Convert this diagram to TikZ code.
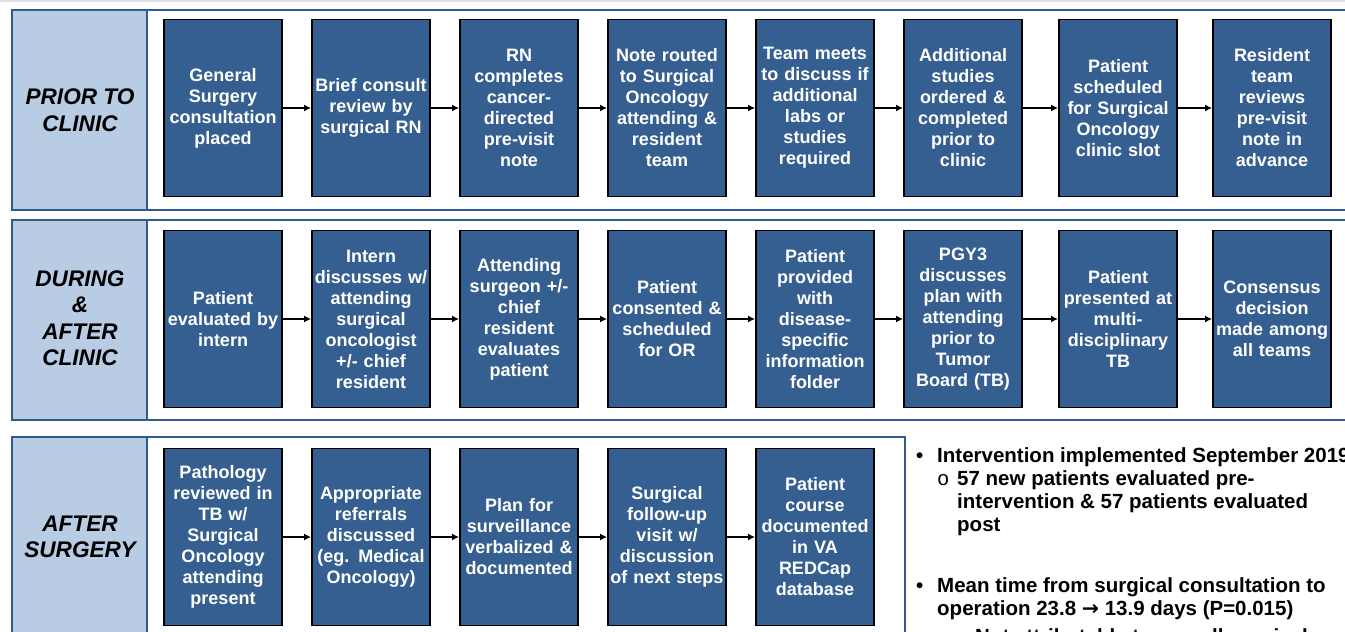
\documentclass[tikz,border=0pt]{standalone}
\usepackage{fontspec}
\setmainfont{Liberation Sans}
\newfontfamily\bulletfont{Liberation Mono}
\newfontfamily\arrowfont{DejaVu Sans}
\usetikzlibrary{positioning,arrows.meta}
\definecolor{boxblue}{HTML}{365F91}
\definecolor{paneblue}{HTML}{B8CCE4}
\definecolor{rimblue}{HTML}{2F5A8E}
\tikzset{node distance=148pt, >={Latex[length=7pt,width=7pt]},
  stepbox/.style={draw=black, line width=1.8pt, fill=boxblue, text=white,
    font=\bfseries\fontsize{18}{21}\selectfont, text width=116pt,
    inner xsep=1pt, minimum height=177pt, align=center},
  phase/.style={font=\bfseries\itshape\fontsize{22.6}{26.5}\selectfont, align=center},
  note/.style={anchor=base west, inner sep=0pt, font=\bfseries\fontsize{20.5}{23.5}\selectfont},
  link/.style={->, line width=2pt},
  rim/.style={draw=rimblue, line width=2.2pt}}

\begin{document}
\begin{tikzpicture}[x=1pt, y=-1pt]
  \useasboundingbox (0,0) rectangle (1345,632);
  \clip (0,0) rectangle (1345,632);
  \draw[gray!25, line width=2pt] (0,1) -- (1345,1);

  % three phase frames
  \draw[rim, fill=white] (12,10) rectangle (1370,210);
  \draw[rim, fill=paneblue] (12,10) rectangle (147,210);
  \draw[rim, fill=white] (12,220) rectangle (1370,420);
  \draw[rim, fill=paneblue] (12,220) rectangle (147,420);
  \draw[rim, fill=white] (12,437) rectangle (905,660);
  \draw[rim, fill=paneblue] (12,437) rectangle (147,660);

  \node[phase] (prior) at (80,110) {PRIOR TO\\CLINIC};
  \node[phase] (during) at (80,318) {DURING\\\&\\AFTER\\CLINIC};
  \node[phase] (after) at (80,537) {AFTER\\SURGERY};

  % prior to clinic
  \node[stepbox] (pc1) at (223,108) {General\\Surgery\\consultation\\placed};
  \node[stepbox] (pc2) [right of=pc1] {Brief consult\\review by\\surgical RN};
  \node[stepbox] (pc3) [right of=pc2] {RN\\completes\\cancer-\\directed\\pre-visit\\note};
  \node[stepbox] (pc4) [right of=pc3] {Note routed\\to Surgical\\Oncology\\attending \&\\resident\\team};
  \node[stepbox] (pc5) [right of=pc4] {Team meets\\to discuss if\\additional\\labs or\\studies\\required};
  \node[stepbox] (pc6) [right of=pc5] {Additional\\studies\\ordered \&\\completed\\prior to\\clinic};
  \node[stepbox] (pc7) [right of=pc6, node distance=155pt] {Patient\\scheduled\\for Surgical\\Oncology\\clinic slot};
  \node[stepbox] (pc8) [right of=pc7, node distance=154pt] {Resident\\team\\reviews\\pre-visit\\note in\\advance};

  % during and after clinic
  \node[stepbox] (da1) at (223,319) {Patient\\evaluated by\\intern};
  \node[stepbox] (da2) [right of=da1] {Intern\\discusses w/\\attending\\surgical\\oncologist\\+/- chief\\resident};
  \node[stepbox] (da3) [right of=da2] {Attending\\surgeon +/-\\chief\\resident\\evaluates\\patient};
  \node[stepbox] (da4) [right of=da3] {Patient\\consented \&\\scheduled\\for OR};
  \node[stepbox] (da5) [right of=da4] {Patient\\provided\\with\\disease-\\specific\\information\\folder};
  \node[stepbox] (da6) [right of=da5] {PGY3\\discusses\\plan with\\attending\\prior to\\Tumor\\Board (TB)};
  \node[stepbox] (da7) [right of=da6, node distance=155pt] {Patient\\presented at\\multi-\\disciplinary\\TB};
  \node[stepbox] (da8) [right of=da7, node distance=154pt] {Consensus\\decision\\made among\\all teams};

  % after surgery
  \node[stepbox] (as1) at (223,537) {Pathology\\reviewed in\\TB w/\\Surgical\\Oncology\\attending\\present};
  \node[stepbox] (as2) [right of=as1] {Appropriate\\referrals\\discussed\\(eg. Medical\\Oncology)};
  \node[stepbox] (as3) [right of=as2] {Plan for\\surveillance\\verbalized \&\\documented};
  \node[stepbox] (as4) [right of=as3] {Surgical\\follow-up\\visit w/\\discussion\\of next steps};
  \node[stepbox] (as5) [right of=as4] {Patient\\course\\documented\\in VA\\REDCap\\database};

  \draw[link] (pc1) -- (pc2);
  \draw[link] (pc2) -- (pc3);
  \draw[link] (pc3) -- (pc4);
  \draw[link] (pc4) -- (pc5);
  \draw[link] (pc5) -- (pc6);
  \draw[link] (pc6) -- (pc7);
  \draw[link] (pc7) -- (pc8);

  \draw[link] (da1) -- (da2);
  \draw[link] (da2) -- (da3);
  \draw[link] (da3) -- (da4);
  \draw[link] (da4) -- (da5);
  \draw[link] (da5) -- (da6);
  \draw[link] (da6) -- (da7);
  \draw[link] (da7) -- (da8);

  \draw[link] (as1) -- (as2);
  \draw[link] (as2) -- (as3);
  \draw[link] (as3) -- (as4);
  \draw[link] (as4) -- (as5);

  % results
  \node[note] (dot1) at (916,462) {•};
  \node[note] (res1) at (937,462) {Intervention implemented September 2019};
  \node[note, font=\bulletfont\fontsize{20.5}{23.5}\selectfont] (sub1) at (937,485) {o};
  \node[note] (res1a) at (957,485) {57 new patients evaluated pre-};
  \node[note] (res1b) at (957,508) {intervention \& 57 patients evaluated};
  \node[note] (res1c) at (957,531) {post};
  \node[note] (dot2) at (916,592) {•};
  \node[note] (res2) at (937,592) {Mean time from surgical consultation to};
  \node[note] (res2a) at (937,615) {operation 23.8 {\arrowfont\bfseries →} 13.9 days (P=0.015)};
  \node[note] (sub2) at (952,643) {–};
  \node[note] (res2b) at (975,643) {Not attributable to overall surgical};
\end{tikzpicture}
\end{document}
